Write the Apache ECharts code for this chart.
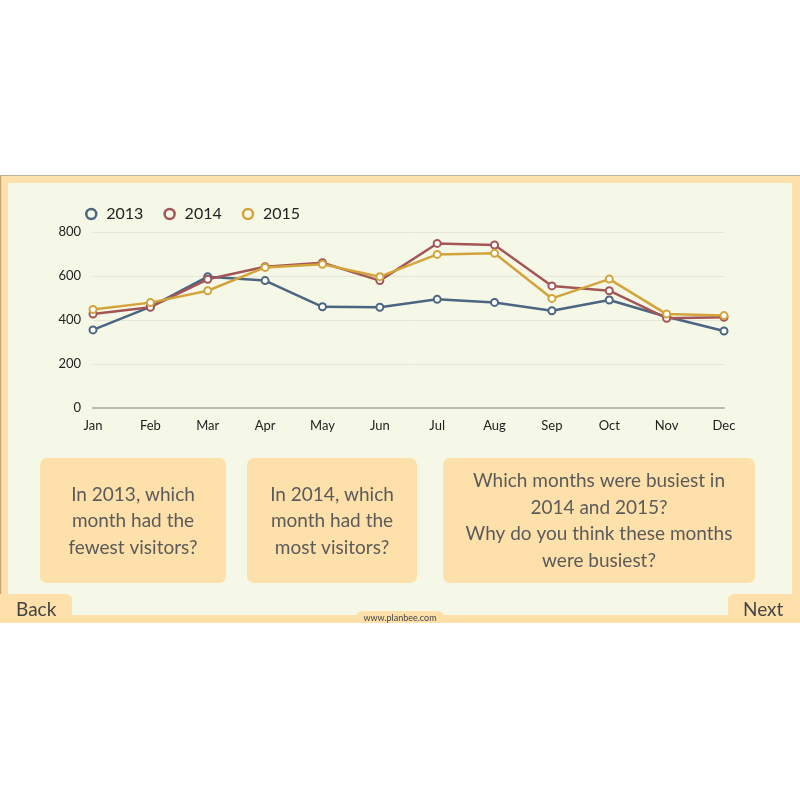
<!DOCTYPE html>
<html>
<head>
<meta charset="utf-8">
<script src="https://cdn.jsdelivr.net/npm/echarts@6/dist/echarts.min.js"></script>
<style>
  html, body { margin: 0; padding: 0; background: #fff; }
  #chart { width: 800px; height: 800px; }
</style>
</head>
<body>
<div id="chart"></div>
<script>
const months = ['Jan', 'Feb', 'Mar', 'Apr', 'May', 'Jun', 'Jul', 'Aug', 'Sep', 'Oct', 'Nov', 'Dec'];
const years = ['2013', '2014', '2015'];
const v2013 = [355, 460, 597, 579, 460, 458, 494, 480, 442, 491, 415, 350];
const v2014 = [427, 458, 585, 642, 660, 579, 748, 741, 555, 533, 408, 412];
const v2015 = [448, 479, 533, 639, 653, 597, 698, 703, 498, 586, 427, 420];
const colors = ['#4b6682', '#a35656', '#d3a43c'];

const questions = [
  'In 2013, which\nmonth had the\nfewest visitors?',
  'In 2014, which\nmonth had the\nmost visitors?',
  'Which months were busiest in\n2014 and 2015?\nWhy do you think these months\nwere busiest?'
];

const font = 'Lato, "Noto Sans", sans-serif';
const frame = '#fde0aa';
const inner = '#f6f8e7';

const chart = echarts.init(document.getElementById('chart'));

// boxes under the chart: [x, width]
const boxes = [[40, 186], [247, 170], [443, 312]];

const graphics = [
  { type: 'rect', z: -10, shape: { x: 0, y: 175, width: 800, height: 448 }, style: { fill: frame } },
  { type: 'rect', z: -9, shape: { x: 8, y: 183, width: 784, height: 432 }, style: { fill: inner } },
  { type: 'line', z: -8, shape: { x1: 0, y1: 175.5, x2: 800, y2: 175.5 }, style: { stroke: '#b9b29f', lineWidth: 1 } },
  { type: 'line', z: -8, shape: { x1: 0.5, y1: 175, x2: 0.5, y2: 623 }, style: { stroke: '#c9a772', lineWidth: 1.5 } }
];

boxes.forEach((b, i) => {
  graphics.push({
    type: 'rect', z: 5,
    shape: { x: b[0], y: 458, width: b[1], height: 125, r: 7 },
    style: { fill: frame }
  });
  graphics.push({
    type: 'text', z: 6,
    x: b[0] + b[1] / 2, y: 521,
    style: {
      text: questions[i], font: '19px ' + font, fill: '#5b5b5b',
      align: 'center', verticalAlign: 'middle', lineHeight: 26.5
    }
  });
});

// nav buttons and footer
graphics.push(
  { type: 'rect', z: 5, shape: { x: 0, y: 594, width: 72, height: 29, r: [0, 6, 0, 0] }, style: { fill: frame } },
  { type: 'text', z: 6, x: 16, y: 610, style: { text: 'Back', font: '19px ' + font, fill: '#444', verticalAlign: 'middle' } },
  { type: 'rect', z: 5, shape: { x: 728, y: 594, width: 72, height: 29, r: [6, 0, 0, 0] }, style: { fill: frame } },
  { type: 'text', z: 6, x: 743, y: 610, style: { text: 'Next', font: '19px ' + font, fill: '#444', verticalAlign: 'middle' } },
  { type: 'rect', z: 5, shape: { x: 356, y: 611, width: 88, height: 12, r: [6, 6, 0, 0] }, style: { fill: frame } },
  { type: 'text', z: 6, x: 400, y: 618, style: { text: 'www.planbee.com', font: '9px ' + font, fill: '#444', align: 'center', verticalAlign: 'middle' } }
);

const seriesData = [v2013, v2014, v2015];

chart.setOption({
  backgroundColor: '#ffffff',
  animation: false,
  graphic: graphics,
  legend: {
    left: 80, top: 201,
    itemWidth: 10, itemHeight: 10, itemGap: 20,
    textStyle: { fontFamily: font, fontSize: 16, color: '#222', padding: [0, 0, 0, 5] },
    data: years.map((y, i) => ({
      name: y, icon: 'circle',
      itemStyle: { color: '#f6f8e7', borderColor: colors[i], borderWidth: 2.5 }
    }))
  },
  grid: { left: 93, right: 76, top: 232, bottom: 392 },
  xAxis: {
    type: 'category', data: months, boundaryGap: false,
    axisLine: { lineStyle: { color: '#b9bbb0', width: 2 } },
    axisTick: { show: false },
    axisLabel: { fontFamily: font, fontSize: 13, color: '#222', margin: 11 }
  },
  yAxis: {
    type: 'value', min: 0, max: 800, interval: 200,
    axisLine: { show: false }, axisTick: { show: false },
    splitLine: { lineStyle: { color: '#e4e6d6', width: 1 } },
    axisLabel: { fontFamily: font, fontSize: 13, color: '#222', margin: 12 }
  },
  series: years.map((y, i) => ({
    name: y, type: 'line', data: seriesData[i],
    symbol: 'emptyCircle', symbolSize: 7,
    lineStyle: { color: colors[i], width: 2.5 },
    itemStyle: { color: colors[i], borderColor: colors[i], borderWidth: 2 }
  }))
});
</script>
</body>
</html>
